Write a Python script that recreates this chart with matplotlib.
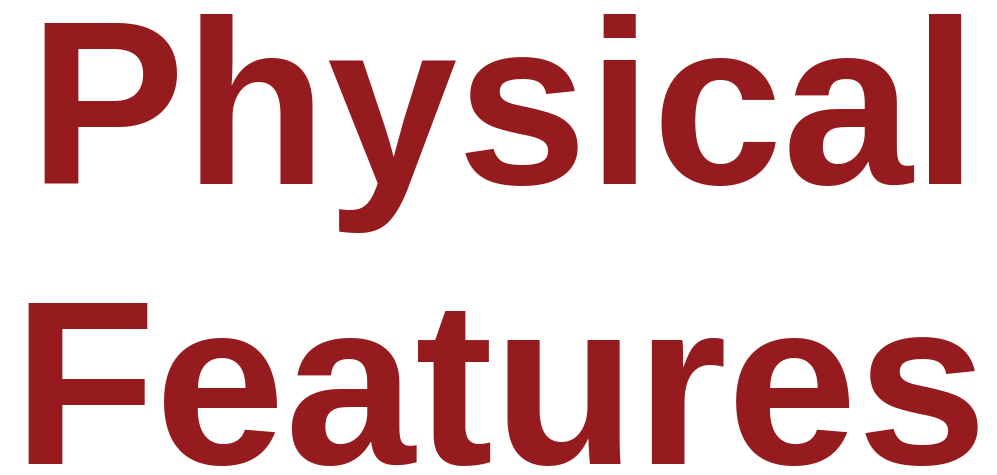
import matplotlib
matplotlib.use("Agg")
import matplotlib.pyplot as plt

# text lines and their baseline positions (figure fraction)
lines = ["Physical", "Features"]
x_pos = [0.028, 0.012]
y_pos = [0.6116, 0.023]

text_color = "#961B1F"
font_size = 168.5

fig = plt.figure(figsize=(9.97, 4.75), dpi=100)
fig.patch.set_facecolor("white")

for line, x, y in zip(lines, x_pos, y_pos):
    fig.text(x, y, line, fontsize=font_size, fontweight="bold",
             family="Liberation Sans", color=text_color,
             ha="left", va="baseline")

fig.savefig("out.png", dpi=100, facecolor="white")
